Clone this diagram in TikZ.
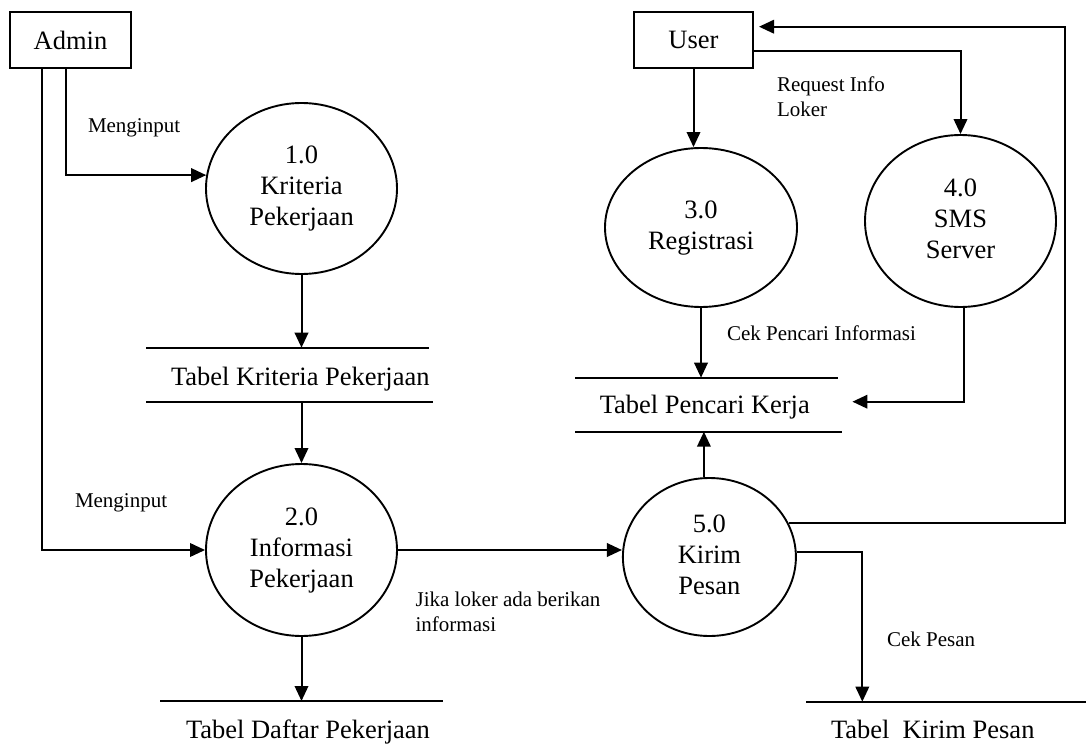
\documentclass[tikz,border=0pt]{standalone}
\usepackage{fontspec}
\setmainfont{Liberation Serif}
\usetikzlibrary{arrows.meta,shapes.geometric}
\begin{document}
\begin{tikzpicture}[x=1pt,y=-1pt,
  line width=2pt,
  big/.style={font=\fontsize{26.5}{31}\selectfont},
  small/.style={font=\fontsize{21}{25}\selectfont, inner sep=0pt},
  proc/.style={ellipse, draw, line width=1.9pt, inner sep=0pt, big},
  ent/.style={rectangle, draw, line width=2pt, inner sep=0pt, big},
  arr/.style={-{Triangle[length=15pt,width=13.5pt]}},
  storetext/.style={big, inner sep=0pt, anchor=base west}]
\useasboundingbox (0,0) rectangle (1086,754);

% external entities
\node[ent, minimum width=121pt, minimum height=56pt] (admin) at (70.5,40) {Admin};
\node[ent, minimum width=119pt, minimum height=56pt] (user) at (693.5,40) {User};

% processes
\node[proc, minimum width=191pt, minimum height=171pt] (p1) at (301.5,188.5)
  {\begin{tabular}{@{}c@{}}1.0\\Kriteria\\Pekerjaan\end{tabular}};
\node[proc, minimum width=191pt, minimum height=172pt] (p2) at (301.5,550)
  {\begin{tabular}{@{}c@{}}2.0\\Informasi\\Pekerjaan\end{tabular}};
\node[proc, minimum width=192pt, minimum height=159pt] (p3) at (701,227.5)
  {\begin{tabular}{@{}c@{}}3.0\\Registrasi\\ \end{tabular}};
\node[proc, minimum width=191pt, minimum height=172pt] (p4) at (960.5,221)
  {\begin{tabular}{@{}c@{}}4.0\\SMS\\Server\end{tabular}};
\node[proc, minimum width=173pt, minimum height=158pt] (p5) at (709.4,557)
  {\begin{tabular}{@{}c@{}}5.0\\Kirim\\Pesan\end{tabular}};

% data stores
\coordinate (tkTL) at (146,347.7); \coordinate (tkTR) at (429,347.7);
\coordinate (tkBL) at (146,401.7); \coordinate (tkBR) at (433,401.7);
\node[storetext] (tk) at (170,385) {Tabel Kriteria Pekerjaan};
\draw (tkTL) -- (tkTR); \draw (tkBL) -- (tkBR);

\coordinate (tdL) at (160,701); \coordinate (tdR) at (443,701);
\node[storetext] (td) at (185,738) {Tabel Daftar Pekerjaan};
\draw (tdL) -- (tdR);

\coordinate (tpTL) at (575.4,377.7); \coordinate (tpTR) at (838,377.7);
\coordinate (tpBL) at (575.4,431.7); \coordinate (tpBR) at (842,431.7);
\coordinate (tpIn) at (852.4,401.7);
\node[storetext] (tp) at (598.8,413) {Tabel Pencari Kerja};
\draw (tpTL) -- (tpTR); \draw (tpBL) -- (tpBR);

\coordinate (kpL) at (806,701.7); \coordinate (kpR) at (1086,701.7);
\coordinate (kpIn) at (862.3,701.7);
\node[storetext] (kp) at (830,738) {Tabel\ \ Kirim Pesan};
\draw (kpL) -- (kpR);

% flows
\draw[arr] ([xshift=-4.5pt]admin.south) |- (p1.172.5);
\draw[arr] ([xshift=-28.8pt]admin.south) |- (p2.west);
\draw[arr] (p1.south) -- (p1.south |- tkTL);
\draw[arr] (p2.north |- tkBL) -- (p2.north);
\draw[arr] (p2.south) -- (p2.south |- tdL);
\draw[arr] (p2.east) -- (p2.east -| p5.west);
\draw[arr] (user.south) -- (user.south |- p3.north);
\draw[arr] ([yshift=-11pt]user.east) -| (p4.north);
\draw[arr] (p3.south) -- (p3.south |- tpTL);
\draw[arr] ([xshift=3pt]p4.south) |- (tpIn);
\draw[arr] ([xshift=-5.5pt]p5.north) -- ([xshift=-5.5pt]p5.north |- tpBL);
\coordinate (fb) at (1065,300);
\draw[arr, shorten >=5pt] (p5.23.5) -| (fb) |- ([yshift=13.3pt]user.east);
\draw[arr] (p5.3.5) -| (kpIn);

% flow labels
\node[small, anchor=base west] (l1) at (87,133) {Menginput};
\node[small, anchor=base west] (l2) at (74,507) {Menginput};
\node[small, anchor=north west, align=left] (l3) at (776,75.7) {Request Info\\Loker};
\node[small, anchor=base west] (l4) at (726,340) {Cek Pencari Informasi};
\node[small, anchor=north west, align=left] (l5) at (414.6,590.7) {Jika loker ada berikan\\informasi};
\node[small, anchor=base west] (l6) at (886,646) {Cek Pesan};
\end{tikzpicture}
\end{document}
